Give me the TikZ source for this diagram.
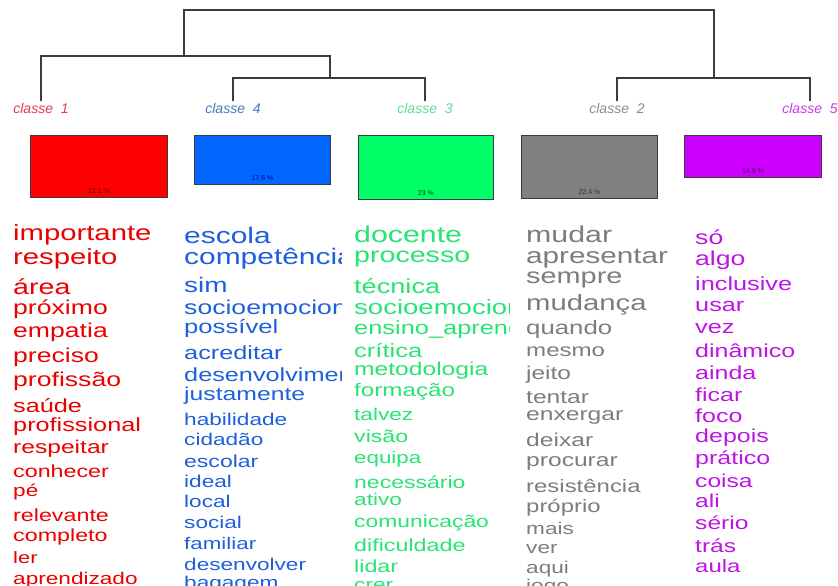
\documentclass[tikz,border=0pt]{standalone}
\usepackage{fontspec}
\setmainfont{Liberation Sans}
\usepackage{graphicx}
\definecolor{cred}{RGB}{235,0,0}
\definecolor{cblue}{RGB}{30,95,220}
\definecolor{cgreen}{RGB}{40,228,115}
\definecolor{cgray}{RGB}{125,125,125}
\definecolor{cpurple}{RGB}{190,20,230}
\definecolor{bred}{RGB}{255,0,0}
\definecolor{bblue}{RGB}{0,102,255}
\definecolor{bgreen}{RGB}{0,255,102}
\definecolor{bgray}{RGB}{128,128,128}
\definecolor{bpurple}{RGB}{204,0,255}
\definecolor{lred}{RGB}{225,60,70}
\definecolor{lblue}{RGB}{70,120,190}
\definecolor{lgreen}{RGB}{90,225,150}
\definecolor{lgray}{RGB}{140,140,140}
\definecolor{lpurple}{RGB}{200,60,230}
\definecolor{dline}{RGB}{60,60,60}
\tikzset{
  wd/.style={font=\fontsize{#1}{#1}\selectfont, anchor=mid west, inner sep=0pt, yshift=-5pt},
  clabel/.style={font=\fontsize{14}{14}\selectfont\itshape, inner sep=1pt},
  dendro/.style={draw=dline, line width=1.2pt},
  clbox/.style={draw=dline, line width=0.9pt, anchor=north west, minimum width=#1, inner sep=0pt},
  pct/.style={font=\fontsize{7}{7}\selectfont, anchor=south, inner sep=0pt, yshift=4pt}
}
\begin{document}
\begin{tikzpicture}[x=1pt,y=1pt]
\useasboundingbox[fill=white] (0,0) rectangle (838,-586);
% class labels
\node[clabel,text=lred] (c1) at (41,-108) {classe~~1};
\node[clabel,text=lblue] (c4) at (233,-108) {classe~~4};
\node[clabel,text=lgreen] (c3) at (425,-108) {classe~~3};
\node[clabel,text=lgray] (c2) at (617,-108) {classe~~2};
\node[clabel,text=lpurple] (c5) at (810,-108) {classe~~5};
% dendrogram
\coordinate (kL) at (184,-56);
\coordinate (k43) at (330,-78);
\coordinate (kR) at (714,-78);
\coordinate (top) at (0,-10);
\coordinate (c1t) at (41,-101);
\coordinate (c4t) at (233,-101);
\coordinate (c3t) at (425,-101);
\coordinate (c2t) at (617,-101);
\coordinate (c5t) at (810,-101);
\draw[dendro] (c1t) |- (k43 |- kL) -- (k43);
\draw[dendro] (c4t) |- (c3t |- k43) -- (c3t);
\draw[dendro] (c2t) |- (c5t |- kR) -- (c5t);
\draw[dendro] (kL) -- (kL |- top) -- (kR |- top) -- (kR);
% boxes
\node[clbox=137pt, minimum height=62pt, fill=bred] (b1) at (30,-135) {};
\node[clbox=136pt, minimum height=49pt, fill=bblue] (b4) at (194,-135) {};
\node[clbox=135pt, minimum height=64pt, fill=bgreen] (b3) at (358,-135) {};
\node[clbox=136pt, minimum height=63pt, fill=bgray] (b2) at (521,-135) {};
\node[clbox=137pt, minimum height=42pt, fill=bpurple] (b5) at (684,-135) {};
\node[pct,text=red!40!black] (p1) at (b1.south) {22.1 \%};
\node[pct,text=blue!50!black] (p4) at (b4.south) {17.6 \%};
\node[pct,text=green!30!black] (p3) at (b3.south) {23 \%};
\node[pct,text=black!80] (p2) at (b2.south) {22.4 \%};
\node[pct,text=violet!50!black] (p5) at (b5.south) {14.9 \%};
% class 1 words
\foreach \yy/\fs/\ww [count=\n] in {233/22/importante, 257/22/respeito, 287/21.5/área, 307/20/próximo, 330/20/empatia, 355/20/preciso, 379/20/profissão, 405/19/saúde, 424/19/profissional, 446/18.5/respeitar, 470/17.5/conhecer, 489/17/pé, 514/17.5/relevante, 534/17.5/completo, 556/16.5/ler, 577/17/aprendizado}
  \node[wd=\fs,text=cred] (r\n) at (13,-\yy) {\scalebox{1.33}[1]{\ww}};
% class 4 words
\begin{scope}
\clip (170,-210) rectangle (341,-586);
\foreach \yy/\fs/\ww [count=\n] in {236/22.5/escola, 257/22.5/competência, 285/21/sim, 307/20/socioemocional, 326/19.3/possível, 352/19/acreditar, 374/19/desenvolvimento, 393/18.6/justamente, 418/17/habilidade, 438/17/cidadão, 460/17.3/escolar, 480/17/ideal, 500/17/local, 521/17/social, 542/16.8/familiar, 563/17/desenvolver, 581/17/bagagem}
  \node[wd=\fs,text=cblue] (u\n) at (184,-\yy) {\scalebox{1.33}[1]{\ww}};
\end{scope}
% class 3 words
\begin{scope}
\clip (340,-210) rectangle (509,-586);
\foreach \yy/\fs/\ww [count=\n] in {235/22.8/docente, 255/21.5/processo, 286/20.4/técnica, 307/20.7/socioemocional, 327/19.1/ensino\_aprendizagem, 350/19.2/crítica, 368/18.5/metodologia, 389/18.2/formação, 413/17/talvez, 435/17.4/visão, 456/16.8/equipa, 481/17.3/necessário, 498/17/ativo, 520/17.2/comunicação, 544/17.5/dificuldade, 565/17.5/lidar, 583/17/crer}
  \node[wd=\fs,text=cgreen] (g\n) at (354,-\yy) {\scalebox{1.33}[1]{\ww}};
\end{scope}
% class 2 words
\foreach \yy/\fs/\ww [count=\n] in {235/22.8/mudar, 256/22.3/apresentar, 276/21.7/sempre, 303/22/mudança, 327/19.4/quando, 349/18.1/mesmo, 372/18.4/jeito, 396/18.5/tentar, 413/18.5/enxergar, 439/18.5/deixar, 459/18.5/procurar, 485/18/resistência, 505/18/próprio, 527/17/mais, 546/17/ver, 566/17/aqui, 584/17/jogo}
  \node[wd=\fs,text=cgray] (h\n) at (526,-\yy) {\scalebox{1.33}[1]{\ww}};
% class 5 words
\foreach \yy/\fs/\ww [count=\n] in {237/20/só, 258/20/algo, 283/19/inclusive, 304/19/usar, 326/19/vez, 350/18.8/dinâmico, 372/18.8/ainda, 394/18.8/ficar, 415/18.8/foco, 435/18.8/depois, 457/18.8/prático, 480/18.5/coisa, 500/18.5/ali, 522/18.5/sério, 545/18.5/trás, 565/18/aula}
  \node[wd=\fs,text=cpurple] (v\n) at (695,-\yy) {\scalebox{1.33}[1]{\ww}};
\end{tikzpicture}
\end{document}
